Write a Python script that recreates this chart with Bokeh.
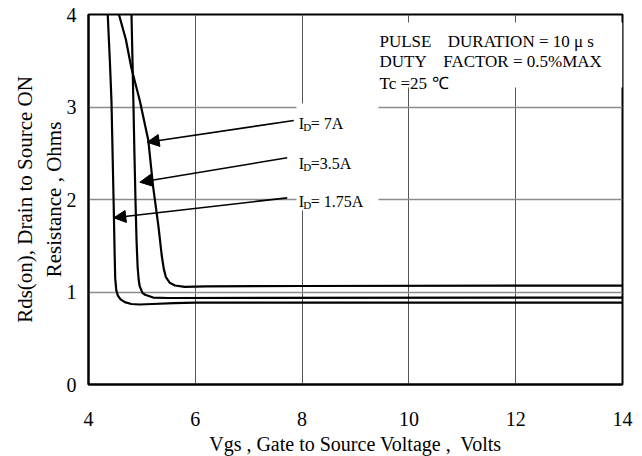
from bokeh.plotting import figure
from bokeh.models import Label, Arrow, NormalHead, FixedTicker
from bokeh.embed import file_html
from bokeh.resources import INLINE

# ---- data ----
x_7a = [4.57, 4.70, 4.80, 4.96, 5.12, 5.21, 5.31, 5.37, 5.41, 5.45, 5.52, 5.62, 5.80, 6.2, 8.0, 14.0]
y_7a = [4.0, 3.73, 3.43, 3.07, 2.64, 2.14, 1.71, 1.40, 1.25, 1.16, 1.10, 1.07, 1.055, 1.06, 1.065, 1.07]

x_35a = [4.805, 4.82, 4.84, 4.86, 4.88, 4.90, 4.92, 4.94, 4.96, 5.01, 5.06, 5.21, 5.5, 14.0]
y_35a = [4.0, 3.6, 3.07, 2.5, 1.99, 1.55, 1.27, 1.13, 1.06, 0.99, 0.97, 0.94, 0.935, 0.94]

x_175a = [4.36, 4.40, 4.43, 4.47, 4.49, 4.50, 4.52, 4.55, 4.60, 4.68, 4.80, 4.95, 5.2, 5.6, 6.0, 14.0]
y_175a = [4.0, 3.5, 3.07, 1.99, 1.4, 1.15, 1.02, 0.96, 0.92, 0.89, 0.87, 0.865, 0.87, 0.88, 0.885, 0.885]

x_ticks = [4, 6, 8, 10, 12, 14]
y_ticks = [0, 1, 2, 3, 4]

# curve labels and arrows
id_labels = ["= 7A", "=3.5A", "= 1.75A"]
label_x = [7.938, 7.938, 7.938]
label_y = [2.822, 2.390, 1.982]
arrow_x0 = [7.845, 7.721, 7.721]
arrow_y0 = [2.854, 2.451, 2.018]
arrow_x1 = [5.099, 4.961, 4.474]
arrow_y1 = [2.619, 2.187, 1.802]

# test-condition note
cond_left = ["PULSE", "DUTY", "Tc =25"]
cond_right = ["DURATION = 10 μ s", "FACTOR = 0.5%MAX", "℃"]
cond_x0 = 9.449
cond_x1 = [10.728, 10.642, 10.436]
cond_y = [3.711, 3.495, 3.257]

FONT = "Liberation Serif"

p = figure(frame_width=534, frame_height=370, x_range=(4, 14), y_range=(0, 4),
           output_backend="svg", toolbar_location=None,
           min_border_left=88, min_border_right=20, min_border_top=14, min_border_bottom=72)
p.background_fill_color = "white"
p.border_fill_color = "white"
p.outline_line_color = "black"
p.outline_line_width = 2

p.xaxis.ticker = FixedTicker(ticks=x_ticks)
p.yaxis.ticker = FixedTicker(ticks=y_ticks)
for ax in (p.xaxis, p.yaxis):
    ax.major_tick_line_color = None
    ax.minor_tick_line_color = None
    ax.major_tick_out = 0
    ax.major_tick_in = 0
    ax.axis_line_color = "black"
    ax.axis_line_width = 2
    ax.major_label_text_font = FONT
    ax.major_label_text_font_size = "20px"
    ax.major_label_text_color = "black"
    ax.axis_label_text_font = FONT
    ax.axis_label_text_font_style = "normal"
    ax.axis_label_text_color = "black"

p.xaxis.axis_label_text_font_size = "20px"
p.yaxis.axis_label_text_font_size = "21px"
p.xaxis.major_label_standoff = 27
p.xaxis.axis_label_standoff = 4
p.yaxis.major_label_standoff = 12
p.yaxis.axis_label_standoff = -2
p.xaxis.axis_label = "Vgs , Gate to Source Voltage ,\u00a0 Volts"
p.yaxis.axis_label = "Rds(on), Drain to Source ON\nResistance , Ohms"
p.yaxis.axis_label_text_line_height = 1.2

p.xgrid.ticker = FixedTicker(ticks=x_ticks[1:-1])
p.ygrid.ticker = FixedTicker(ticks=y_ticks[1:-1])
p.xgrid.grid_line_color = "#555555"
p.xgrid.grid_line_width = 1
p.ygrid.grid_line_color = "#8c8c8c"
p.ygrid.grid_line_width = 1.5

# white boxes behind annotation texts (they hide the grid lines)
p.quad(left=[7.895, 9.40], right=[9.43, 14.0], bottom=[1.881, 3.211], top=[3.038, 3.913],
       fill_color="white", line_color=None)

for xs, ys in ((x_7a, y_7a), (x_35a, y_35a), (x_175a, y_175a)):
    p.line(xs, ys, line_color="black", line_width=2.2, line_join="round")

for i in range(3):
    p.add_layout(Arrow(x_start=arrow_x0[i], y_start=arrow_y0[i], x_end=arrow_x1[i], y_end=arrow_y1[i],
                       line_color="black", line_width=1.6,
                       end=NormalHead(size=12, fill_color="black", line_color="black", line_width=1)))
    p.add_layout(Label(x=label_x[i], y=label_y[i], text="I", text_font=FONT, text_font_size="16px",
                       text_baseline="alphabetic", text_color="black"))
    p.add_layout(Label(x=label_x[i], y=label_y[i], x_offset=4.5, y_offset=-3.5, text="D", text_font=FONT,
                       text_font_size="11px", text_baseline="alphabetic", text_color="black"))
    p.add_layout(Label(x=label_x[i], y=label_y[i], x_offset=12, text=id_labels[i], text_font=FONT,
                       text_font_size="16px", text_baseline="alphabetic", text_color="black"))

for i in range(3):
    p.add_layout(Label(x=cond_x0, y=cond_y[i], text=cond_left[i], text_font=FONT, text_font_size="17px",
                       text_baseline="alphabetic", text_color="black"))
    p.add_layout(Label(x=cond_x1[i], y=cond_y[i], text=cond_right[i], text_font=FONT, text_font_size="17px",
                       text_baseline="alphabetic", text_color="black"))

open("out.html", "w").write(file_html(p, INLINE))
